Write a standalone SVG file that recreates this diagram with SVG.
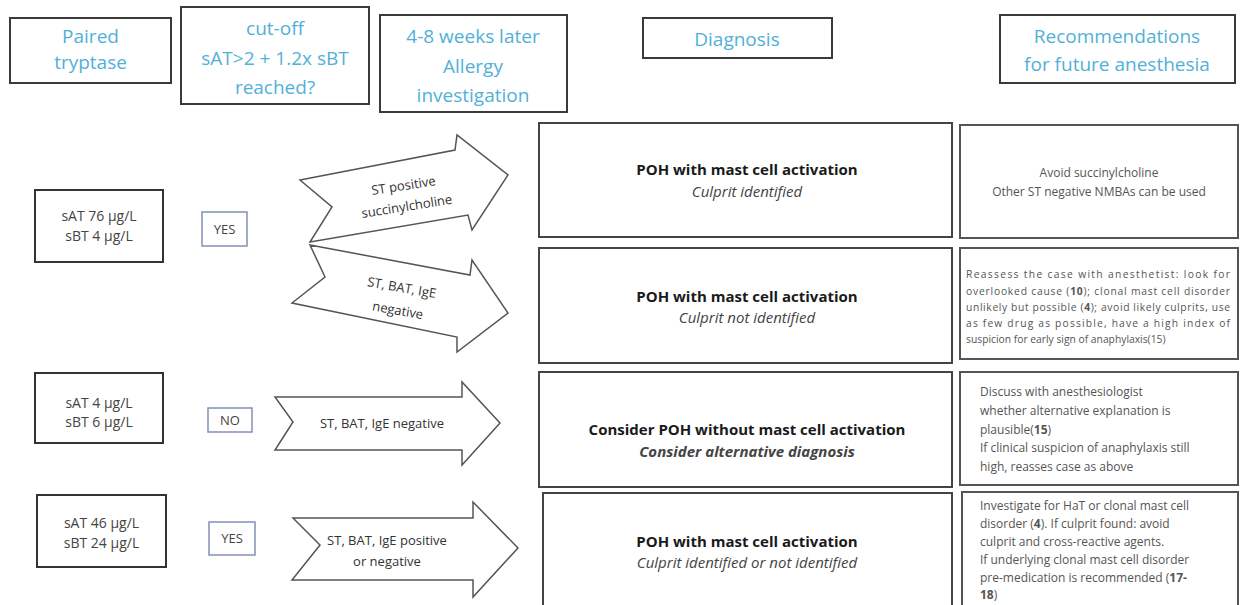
<svg xmlns="http://www.w3.org/2000/svg" width="1240" height="605" viewBox="0 0 1240 605">
<style>
  text { font-family: "Open Sans", "Liberation Sans", sans-serif; }
  .hbox { fill: #fff; stroke: #3a3a3a; stroke-width: 2; }
  .htxt { fill: #52b0d8; font-size: 19px; text-anchor: middle; }
  .vbox { fill: #fff; stroke: #333; stroke-width: 2; }
  .vtxt { fill: #444; font-size: 14px; text-anchor: middle; }
  .ybox { fill: #fff; stroke: #8090b8; stroke-width: 1.5; }
  .ytxt { fill: #444; font-size: 13px; text-anchor: middle; }
  .arrow { fill: #fff; stroke: #555; stroke-width: 1.5; stroke-linejoin: miter; }
  .atxt { fill: #333; font-size: 13px; text-anchor: middle; }
  .dbox { fill: #fff; stroke: #444; stroke-width: 2; }
  .dbold { fill: #1a1a1a; font-size: 15px; font-weight: bold; text-anchor: middle; }
  .dital { fill: #444; font-size: 15px; font-style: italic; text-anchor: middle; }
  .rbox { fill: #fff; stroke: #555; stroke-width: 2; }
  .rtxt { fill: #555; font-size: 12px; }
  .rsmall { fill: #555; font-size: 10.3px; }
</style>
<rect width="1240" height="605" fill="#fff"/>

<g id="h-paired">
  <rect class="hbox" x="10" y="18" width="161" height="65"/>
  <text class="htxt" x="90.5" y="43">Paired</text>
  <text class="htxt" x="90.5" y="69">tryptase</text>
</g>
<g id="h-cutoff">
  <rect class="hbox" x="181" y="7" width="188" height="97"/>
  <text class="htxt" x="275" y="35">cut-off</text>
  <text class="htxt" x="275" y="65">sAT&gt;2 + 1.2x sBT</text>
  <text class="htxt" x="275" y="94">reached?</text>
</g>
<g id="h-allergy">
  <rect class="hbox" x="380" y="15" width="187" height="97"/>
  <text class="htxt" x="473" y="43">4-8 weeks later</text>
  <text class="htxt" x="473" y="73">Allergy</text>
  <text class="htxt" x="473" y="102">investigation</text>
</g>
<g id="h-diagnosis">
  <rect class="hbox" x="643" y="18" width="189" height="40"/>
  <text class="htxt" x="737" y="46">Diagnosis</text>
</g>
<g id="h-recommendations">
  <rect class="hbox" x="1000" y="15" width="235" height="68"/>
  <text class="htxt" x="1117" y="43">Recommendations</text>
  <text class="htxt" x="1117" y="71">for future anesthesia</text>
</g>

<g id="v1">
  <rect class="vbox" x="35" y="190" width="128" height="72"/>
  <text class="vtxt" x="99" y="221">sAT 76 µg/L</text>
  <text class="vtxt" x="99" y="241">sBT 4 µg/L</text>
</g>
<g id="yes1">
  <rect class="ybox" x="202" y="212" width="45" height="34"/>
  <text class="ytxt" x="224.5" y="234">YES</text>
</g>
<g id="v2">
  <rect class="vbox" x="35" y="373" width="128" height="70"/>
  <text class="vtxt" x="99" y="408">sAT 4 µg/L</text>
  <text class="vtxt" x="99" y="427">sBT 6 µg/L</text>
</g>
<g id="no2">
  <rect class="ybox" x="208" y="408" width="44" height="24"/>
  <text class="ytxt" x="230" y="425">NO</text>
</g>
<g id="v3">
  <rect class="vbox" x="37" y="495" width="129" height="72"/>
  <text class="vtxt" x="101.5" y="528">sAT 46 µg/L</text>
  <text class="vtxt" x="101.5" y="548">sBT 24 µg/L</text>
</g>
<g id="yes3">
  <rect class="ybox" x="209" y="522" width="46" height="33"/>
  <text class="ytxt" x="232" y="543">YES</text>
</g>

<g id="connectors">
  <g id="arrow-st-positive">
    <polygon class="arrow" points="300,180 455,150 457,135 508,175 472,230 468,215 310,242 332,207"/>
    <g transform="rotate(-9 405 195)">
      <text class="atxt" x="405" y="190">ST positive</text>
      <text class="atxt" x="405" y="211">succinylcholine</text>
    </g>
  </g>
  <g id="arrow-negative-1">
    <polygon class="arrow" points="310,245 470,275 472,260 508,313 457,352 457,337 292,303 325,277"/>
    <g transform="rotate(10 400 298)">
      <text class="atxt" x="400" y="292">ST, BAT, IgE</text>
      <text class="atxt" x="400" y="315">negative</text>
    </g>
  </g>
  <g id="arrow-negative-2">
    <polygon class="arrow" points="275,397 462,397 462,382 500,423 462,465 462,450 275,450 293,422"/>
    <text class="atxt" x="382" y="428">ST, BAT, IgE negative</text>
  </g>
  <g id="arrow-pos-neg">
    <polygon class="arrow" points="293,518 473,518 473,502 518,548 473,597 473,580 292,580 320,545"/>
    <text class="atxt" x="387" y="545">ST, BAT, IgE positive</text>
    <text class="atxt" x="387" y="566">or negative</text>
  </g>
</g>

<g id="d1">
  <rect class="dbox" x="539" y="123" width="413" height="114"/>
  <text class="dbold" x="747" y="175">POH with mast cell activation</text>
  <text class="dital" x="747" y="197">Culprit identified</text>
</g>
<g id="d2">
  <rect class="dbox" x="539" y="248" width="413" height="115"/>
  <text class="dbold" x="747" y="302">POH with mast cell activation</text>
  <text class="dital" x="747" y="323">Culprit not identified</text>
</g>
<g id="d3">
  <rect class="dbox" x="539" y="372" width="413" height="115"/>
  <text class="dbold" x="747" y="435">Consider POH without mast cell activation</text>
  <text class="dital" x="747" y="457" font-weight="bold">Consider alternative diagnosis</text>
</g>
<g id="d4">
  <rect class="dbox" x="543" y="493" width="409" height="118"/>
  <text class="dbold" x="747" y="547">POH with mast cell activation</text>
  <text class="dital" x="747" y="568">Culprit identified or not identified</text>
</g>

<g id="r1">
  <rect class="rbox" x="960" y="125" width="278" height="113"/>
  <text class="rtxt" x="1099" y="177" text-anchor="middle">Avoid succinylcholine</text>
  <text class="rtxt" x="1099" y="196" text-anchor="middle">Other ST negative NMBAs can be used</text>
</g>
<g id="r2">
  <rect class="rbox" x="960" y="248" width="278" height="111"/>
  <text class="rsmall" x="966" y="278" textLength="264" lengthAdjust="spacing">Reassess the case with anesthetist: look for</text>
  <text class="rsmall" x="966" y="295" textLength="264" lengthAdjust="spacing">overlooked cause (<tspan font-weight="bold">10</tspan>); clonal mast cell disorder</text>
  <text class="rsmall" x="966" y="311" textLength="264" lengthAdjust="spacing">unlikely but possible (<tspan font-weight="bold">4</tspan>); avoid likely culprits, use</text>
  <text class="rsmall" x="966" y="327" textLength="264" lengthAdjust="spacing">as few drug as possible, have a high index of</text>
  <text class="rsmall" x="966" y="343">suspicion for early sign of anaphylaxis(15)</text>
</g>
<g id="r3">
  <rect class="rbox" x="960" y="372" width="278" height="113"/>
  <text class="rtxt" x="980" y="396">Discuss with anesthesiologist</text>
  <text class="rtxt" x="980" y="415">whether alternative explanation is</text>
  <text class="rtxt" x="980" y="434">plausible(<tspan font-weight="bold">15</tspan>)</text>
  <text class="rtxt" x="980" y="452">If clinical suspicion of anaphylaxis still</text>
  <text class="rtxt" x="980" y="471">high, reasses case as above</text>
</g>
<g id="r4">
  <rect class="rbox" x="962" y="492" width="276" height="120"/>
  <text class="rtxt" x="980" y="510">Investigate for HaT or clonal mast cell</text>
  <text class="rtxt" x="980" y="528">disorder (<tspan font-weight="bold">4</tspan>). If culprit found: avoid</text>
  <text class="rtxt" x="980" y="546">culprit and cross-reactive agents.</text>
  <text class="rtxt" x="980" y="564">If underlying clonal mast cell disorder</text>
  <text class="rtxt" x="980" y="582">pre-medication is recommended  (<tspan font-weight="bold">17-</tspan></text>
  <text class="rtxt" x="980" y="599"><tspan font-weight="bold">18</tspan>)</text>
</g>
</svg>
